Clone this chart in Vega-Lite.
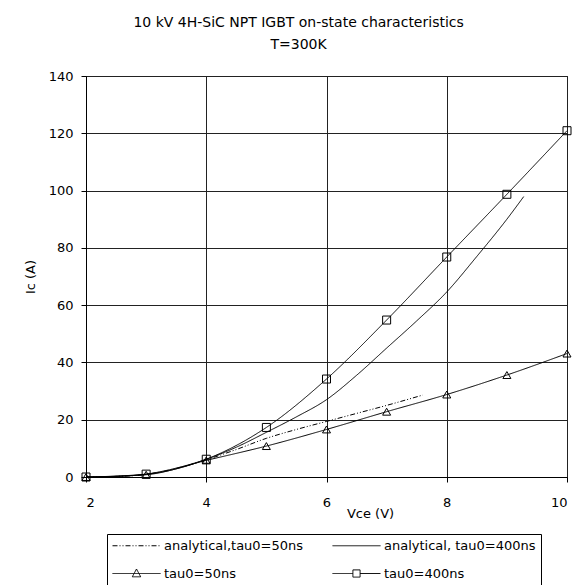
{
  "$schema": "https://vega.github.io/schema/vega-lite/v6.json",
  "width": 481,
  "height": 401,
  "autosize": {"type": "none"},
  "padding": {"left": 86, "top": 76, "right": 16, "bottom": 108},
  "background": "white",
  "title": {
    "text": ["10 kV 4H-SiC NPT IGBT on-state characteristics", "T=300K"],
    "font": "DejaVu Sans",
    "fontSize": 14,
    "fontWeight": "normal",
    "color": "black",
    "anchor": "middle",
    "frame": "bounds",
    "lineHeight": 22,
    "offset": 18
  },
  "config": {
    "font": "DejaVu Sans",
    "view": {"stroke": "black", "strokeWidth": 1},
    "axis": {
      "labelFont": "DejaVu Sans",
      "labelFontSize": 13,
      "labelColor": "black",
      "titleFont": "DejaVu Sans",
      "titleFontSize": 13,
      "titleFontWeight": "normal",
      "titleColor": "black",
      "domainColor": "black",
      "tickColor": "black",
      "tickSize": 5,
      "gridColor": "#222222",
      "gridWidth": 1
    },
    "legend": {
      "labelFont": "DejaVu Sans",
      "labelFontSize": 13,
      "labelColor": "black"
    }
  },
  "data": {
    "values": [
      {"s": "analytical,tau0=50ns", "v": 2, "i": 0},
      {"s": "analytical,tau0=50ns", "v": 2.5, "i": 0.2},
      {"s": "analytical,tau0=50ns", "v": 3, "i": 0.9},
      {"s": "analytical,tau0=50ns", "v": 3.5, "i": 3},
      {"s": "analytical,tau0=50ns", "v": 4, "i": 6},
      {"s": "analytical,tau0=50ns", "v": 4.5, "i": 9.6},
      {"s": "analytical,tau0=50ns", "v": 5, "i": 13.5},
      {"s": "analytical,tau0=50ns", "v": 5.5, "i": 16.6},
      {"s": "analytical,tau0=50ns", "v": 6, "i": 19.4},
      {"s": "analytical,tau0=50ns", "v": 6.5, "i": 22.2},
      {"s": "analytical,tau0=50ns", "v": 7, "i": 25},
      {"s": "analytical,tau0=50ns", "v": 7.6, "i": 28.6},
      {"s": "analytical, tau0=400ns", "v": 2, "i": 0},
      {"s": "analytical, tau0=400ns", "v": 2.5, "i": 0.2},
      {"s": "analytical, tau0=400ns", "v": 3, "i": 1},
      {"s": "analytical, tau0=400ns", "v": 3.5, "i": 3.1},
      {"s": "analytical, tau0=400ns", "v": 4, "i": 6.2},
      {"s": "analytical, tau0=400ns", "v": 4.5, "i": 10.4},
      {"s": "analytical, tau0=400ns", "v": 5, "i": 15.6},
      {"s": "analytical, tau0=400ns", "v": 5.5, "i": 21},
      {"s": "analytical, tau0=400ns", "v": 6, "i": 27},
      {"s": "analytical, tau0=400ns", "v": 6.5, "i": 35.5},
      {"s": "analytical, tau0=400ns", "v": 7, "i": 45},
      {"s": "analytical, tau0=400ns", "v": 7.5, "i": 54.5},
      {"s": "analytical, tau0=400ns", "v": 8, "i": 64.6},
      {"s": "analytical, tau0=400ns", "v": 8.5, "i": 77},
      {"s": "analytical, tau0=400ns", "v": 9, "i": 90},
      {"s": "analytical, tau0=400ns", "v": 9.28, "i": 97.9},
      {"s": "tau0=50ns", "v": 2, "i": 0},
      {"s": "tau0=50ns", "v": 3, "i": 0.8},
      {"s": "tau0=50ns", "v": 4, "i": 5.8},
      {"s": "tau0=50ns", "v": 5, "i": 10.8},
      {"s": "tau0=50ns", "v": 6, "i": 16.6},
      {"s": "tau0=50ns", "v": 7, "i": 22.8},
      {"s": "tau0=50ns", "v": 8, "i": 28.8},
      {"s": "tau0=50ns", "v": 9, "i": 35.6},
      {"s": "tau0=50ns", "v": 10, "i": 43.1},
      {"s": "tau0=400ns", "v": 2, "i": 0},
      {"s": "tau0=400ns", "v": 3, "i": 1},
      {"s": "tau0=400ns", "v": 4, "i": 6.2},
      {"s": "tau0=400ns", "v": 5, "i": 17.3},
      {"s": "tau0=400ns", "v": 6, "i": 34.2},
      {"s": "tau0=400ns", "v": 7, "i": 54.8},
      {"s": "tau0=400ns", "v": 8, "i": 76.8},
      {"s": "tau0=400ns", "v": 9, "i": 98.7},
      {"s": "tau0=400ns", "v": 10, "i": 120.9}
    ]
  },
  "encoding": {
    "x": {
      "field": "v",
      "type": "quantitative",
      "scale": {"domain": [2, 10], "nice": false},
      "axis": {
        "values": [2, 4, 6, 8, 10],
        "title": "Vce (V)",
        "labelPadding": 14,
        "titleX": 284,
        "titleY": 36,
        "titleBaseline": "middle",
        "titleAnchor": "middle"
      }
    },
    "y": {
      "field": "i",
      "type": "quantitative",
      "scale": {"domain": [0, 140], "nice": false},
      "axis": {
        "values": [0, 20, 40, 60, 80, 100, 120, 140],
        "title": "Ic (A)",
        "labelPadding": 8,
        "titlePadding": 11
      }
    }
  },
  "layer": [
    {
      "mark": {"type": "line", "interpolate": "monotone", "color": "black", "strokeWidth": 1},
      "encoding": {
        "strokeDash": {
          "field": "s",
          "type": "nominal",
          "scale": {
            "domain": ["analytical,tau0=50ns", "analytical, tau0=400ns", "tau0=50ns", "tau0=400ns"],
            "range": [[5, 2, 1, 2, 1, 2], [1, 0], [1, 0], [1, 0]]
          },
          "legend": {
            "title": null,
            "orient": "none",
            "legendX": 21,
            "legendY": 458,
            "direction": "horizontal",
            "columns": 2,
            "columnPadding": 26,
            "rowPadding": 14,
            "padding": 5,
            "strokeColor": "black",
            "symbolSize": 144,
            "symbolStrokeWidth": 1,
            "symbolStrokeColor": "black",
            "labelOffset": 39,
            "labelFontSize": 13,
            "encode": {
              "symbols": {
                "update": {
                  "shape": {"signal": "datum.value == 'tau0=50ns' ? 'M-1,0H7M3,-0.75L3.7,0.55H2.3Z' : datum.value == 'tau0=400ns' ? 'M-1,0H2.4M3.6,0H7M2.4,-0.6H3.6V0.6H2.4Z' : 'M-1,0H7'"},
                  "fill": {"value": "transparent"},
                  "stroke": {"value": "black"},
                  "opacity": {"value": 1},
                  "size": {"value": 144}
                }
              }
            }
          }
        }
      }
    },
    {
      "transform": [{"filter": "datum.s == 'tau0=50ns'"}],
      "mark": {"type": "point", "shape": "triangle-up", "filled": false, "color": "black", "strokeWidth": 1, "size": 64, "opacity": 1}
    },
    {
      "transform": [{"filter": "datum.s == 'tau0=400ns'"}],
      "mark": {"type": "point", "shape": "square", "filled": false, "color": "black", "strokeWidth": 1, "size": 64, "opacity": 1}
    }
  ]
}
